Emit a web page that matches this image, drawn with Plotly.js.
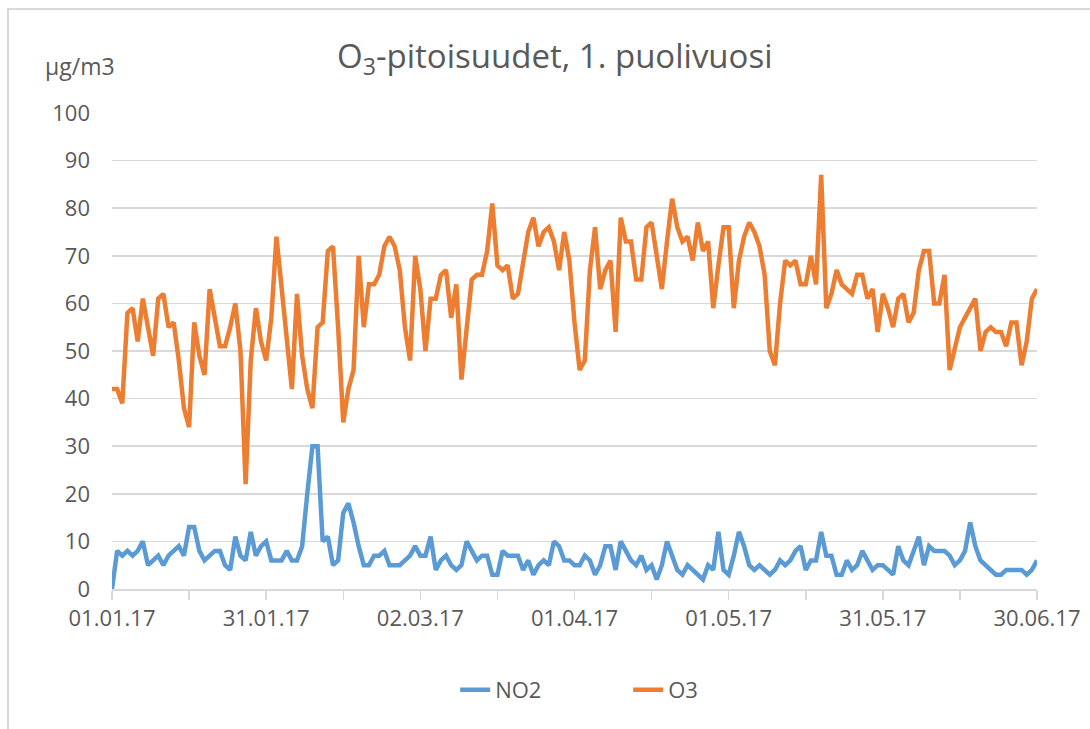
<!DOCTYPE html>
<html>
<head>
<meta charset="utf-8">
<script src="https://cdn.plot.ly/plotly-3.0.1.min.js"></script>
<style>
  html, body { margin: 0; padding: 0; background: #ffffff; }
  #wrap { position: relative; width: 1090px; height: 729px; overflow: hidden; }
  #frame { position: absolute; left: 7px; top: 8px; width: 1100px; height: 740px;
           border-left: 2px solid #d9d9d9; border-top: 2px solid #d9d9d9; pointer-events: none; }
  #chart { position: absolute; left: 0; top: 0; width: 1090px; height: 729px; }
</style>
</head>
<body>
<div id="wrap">
  <div id="chart"></div>
  <div id="frame"></div>
</div>
<script>
// Daily series, 01.01.2017 ... 30.06.2017 (181 days)
const startDate = '2017-01-01';
const dayCount = 181;

const no2 = [
  0, 8, 7, 8, 7, 8, 10, 5, 6, 7,
  5, 7, 8, 9, 7, 13, 13, 8, 6, 7,
  8, 8, 5, 4, 11, 7, 6, 12, 7, 9,
  10, 6, 6, 6, 8, 6, 6, 9, 20, 30,
  30, 10, 11, 5, 6, 16, 18, 14, 9, 5,
  5, 7, 7, 8, 5, 5, 5, 6, 7, 9,
  7, 7, 11, 4, 6, 7, 5, 4, 5, 10,
  8, 6, 7, 7, 3, 3, 8, 7, 7, 7,
  4, 6, 3, 5, 6, 5, 10, 9, 6, 6,
  5, 5, 7, 6, 3, 5, 9, 9, 4, 10,
  8, 6, 5, 7, 4, 5, 2, 5, 10, 7,
  4, 3, 5, 4, 3, 2, 5, 4, 12, 4,
  3, 7, 12, 9, 5, 4, 5, 4, 3, 4,
  6, 5, 6, 8, 9, 4, 6, 6, 12, 7,
  7, 3, 3, 6, 4, 5, 8, 6, 4, 5,
  5, 4, 3, 9, 6, 5, 8, 11, 5, 9,
  8, 8, 8, 7, 5, 6, 8, 14, 9, 6,
  5, 4, 3, 3, 4, 4, 4, 4, 3, 4,
  6
];

const o3 = [
  42, 42, 39, 58, 59, 52, 61, 55, 49, 61,
  62, 55, 56, 48, 38, 34, 56, 49, 45, 63,
  57, 51, 51, 55, 60, 50, 22, 48, 59, 52,
  48, 57, 74, 63, 52, 42, 62, 49, 42, 38,
  55, 56, 71, 72, 55, 35, 42, 46, 70, 55,
  64, 64, 66, 72, 74, 72, 67, 55, 48, 70,
  63, 50, 61, 61, 66, 67, 57, 64, 44, 55,
  65, 66, 66, 71, 81, 68, 67, 68, 61, 62,
  69, 75, 78, 72, 75, 76, 73, 67, 75, 69,
  56, 46, 48, 67, 76, 63, 67, 69, 54, 78,
  73, 73, 65, 65, 76, 77, 70, 63, 73, 82,
  76, 73, 74, 69, 77, 71, 73, 59, 68, 76,
  76, 59, 69, 74, 77, 75, 72, 66, 50, 47,
  60, 69, 68, 69, 64, 64, 70, 64, 87, 59,
  62, 67, 64, 63, 62, 66, 66, 61, 63, 54,
  62, 59, 55, 61, 62, 56, 58, 67, 71, 71,
  60, 60, 66, 46, 51, 55, 57, 59, 61, 50,
  54, 55, 54, 54, 51, 56, 56, 47, 52, 61,
  63
];

const tickDates = ['2017-01-01','2017-01-16','2017-01-31','2017-02-15','2017-03-02','2017-03-17',
                   '2017-04-01','2017-04-16','2017-05-01','2017-05-16','2017-05-31','2017-06-15','2017-06-30'];
const tickLabels = ['01.01.17','','31.01.17','','02.03.17','','01.04.17','','01.05.17','','31.05.17','','30.06.17'];

const seriesNames = ['NO2', 'O3'];
const titleText = 'O<sub>3</sub>-pitoisuudet, 1. puolivuosi';
const unitText = 'µg/m3';

// category axis: consecutive calendar days
const dates = [];
const d0 = new Date(startDate + 'T00:00:00Z');
for (let i = 0; i < dayCount; i++) {
  const d = new Date(d0.getTime() + i * 86400000);
  dates.push(d.toISOString().slice(0, 10));
}

const font = 'Open Sans, Noto Sans, sans-serif';
const grey = '#595959';

const traces = [
  { x: dates, y: no2, name: seriesNames[0], type: 'scatter', mode: 'lines',
    line: { color: '#5B9BD5', width: 4.5, shape: 'linear' } },
  { x: dates, y: o3, name: seriesNames[1], type: 'scatter', mode: 'lines',
    line: { color: '#ED7D31', width: 4.5, shape: 'linear' } }
];

const layout = {
  width: 1090, height: 729,
  paper_bgcolor: 'rgba(0,0,0,0)', plot_bgcolor: 'rgba(0,0,0,0)',
  margin: { l: 112, r: 53, t: 113, b: 140 },
  font: { family: font, color: grey, size: 22 },
  title: { text: titleText, x: 0.509, xref: 'container', xanchor: 'center',
           y: 0.922, yref: 'container', yanchor: 'middle',
           font: { family: font, size: 33, color: grey } },
  xaxis: {
    type: 'date', range: [dates[0], dates[dates.length - 1]],
    tickmode: 'array', tickvals: tickDates, ticktext: tickLabels,
    ticks: 'outside', ticklen: 9, tickwidth: 1.5, tickcolor: '#d9d9d9',
    showline: true, linecolor: '#d9d9d9', linewidth: 1.5,
    showgrid: false, zeroline: false,
    tickfont: { family: font, size: 22, color: grey }
  },
  yaxis: {
    range: [0, 100], tickmode: 'linear', tick0: 0, dtick: 10,
    showgrid: true, gridcolor: '#d9d9d9', gridwidth: 1.5,
    zeroline: false, showline: false, ticks: '',
    ticklabelstandoff: 21,
    tickfont: { family: font, size: 22, color: grey }
  },
  showlegend: true,
  legend: { orientation: 'h', x: 0.371, xanchor: 'left', y: -0.212, yanchor: 'middle',
            entrywidth: 128, entrywidthmode: 'pixels',
            font: { family: font, size: 22, color: grey }, tracegroupgap: 0 },
  annotations: [
    { text: unitText, xref: 'paper', yref: 'paper', x: -0.0346, y: 1.099,
      xanchor: 'center', yanchor: 'middle', showarrow: false,
      font: { family: font, size: 23, color: grey } }
  ]
};

Plotly.newPlot('chart', traces, layout, { displayModeBar: false, staticPlot: true });
</script>
</body>
</html>
